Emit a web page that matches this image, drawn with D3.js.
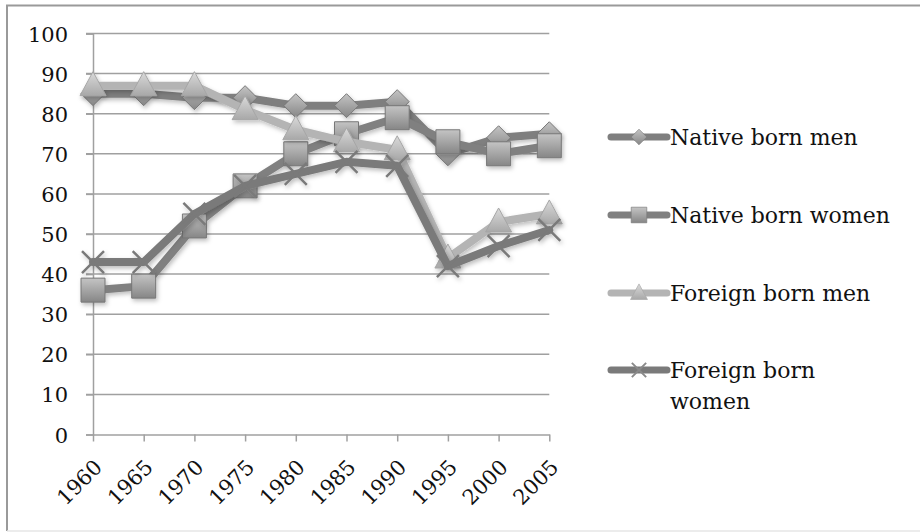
<!DOCTYPE html>
<html>
<head>
<meta charset="utf-8">
<script src="https://cdn.jsdelivr.net/npm/d3@7"></script>
<style>
  body { margin: 0; background: #fff; }
  svg { display: block; }
  .tick text { font-family: "DejaVu Serif", serif; fill: #111; }
</style>
</head>
<body>
<div id="chart-area"></div>
<script>
// values
const years = ['1960','1965','1970','1975','1980','1985','1990','1995','2000','2005'];
const nativeMen = [85, 85, 84, 84, 82, 82, 83, 70, 74, 75];
const nativeWomen = [36, 37, 52, 62, 70, 75, 79, 73, 70, 72];
const foreignMen = [87, 87, 87, 81, 76, 73, 71, 44, 53, 55];
const foreignWomen = [43, 43, 55, 62, 65, 68, 67, 42, 47, 51];
const yTicks = [0, 10, 20, 30, 40, 50, 60, 70, 80, 90, 100];

const seriesNames = ['Native born men', 'Native born women', 'Foreign born men', 'Foreign born women'];
const seriesValues = [nativeMen, nativeWomen, foreignMen, foreignWomen];
const seriesColor = ['#7f7f7f', '#808080', '#b4b4b4', '#7a7a7a'];
const seriesMarker = ['diamond', 'square', 'triangle', 'cross'];

const WIDTH = 920, HEIGHT = 532;
const PLOT = { LEFT: 93, RIGHT: 549.3, TOP: 33.5, BOTTOM: 434.5 };

const svg = d3.select('#chart-area')
  .append('svg')
  .attr('width', WIDTH)
  .attr('height', HEIGHT);

const defs = svg.append('defs');

const grad = defs.append('linearGradient')
  .attr('id', 'mk').attr('x1', 0).attr('y1', 0).attr('x2', 0).attr('y2', 1);
grad.append('stop').attr('offset', '0%').attr('stop-color', '#c4c4c4');
grad.append('stop').attr('offset', '100%').attr('stop-color', '#868686');

const gradLight = defs.append('linearGradient')
  .attr('id', 'mkLight').attr('x1', 0).attr('y1', 0).attr('x2', 0).attr('y2', 1);
gradLight.append('stop').attr('offset', '0%').attr('stop-color', '#dadada');
gradLight.append('stop').attr('offset', '100%').attr('stop-color', '#a8a8a8');

const shadow = defs.append('filter').attr('id', 'shadow')
  .attr('x', '-30%').attr('y', '-30%').attr('width', '160%').attr('height', '160%');
shadow.append('feDropShadow')
  .attr('dx', 1.5).attr('dy', 2.5).attr('stdDeviation', 2)
  .attr('flood-color', '#000').attr('flood-opacity', 0.25);

// outer chart border
svg.append('path')
  .attr('d', `M7,531 V5.5 H${WIDTH}`)
  .attr('fill', 'none').attr('stroke', '#9a9a9a').attr('stroke-width', 2);
svg.append('line')
  .attr('x1', 7).attr('x2', WIDTH).attr('y1', 531).attr('y2', 531)
  .attr('stroke', '#e6e6e6').attr('stroke-width', 1.5);

const x = d3.scalePoint()
  .domain(years)
  .range([PLOT.LEFT, PLOT.RIGHT]);

const y = d3.scaleLinear()
  .domain([0, 100])
  .range([PLOT.BOTTOM, PLOT.TOP]);

// gridlines
svg.append('g')
  .selectAll('line')
  .data(yTicks.filter(d => d > 0))
  .enter().append('line')
  .attr('x1', PLOT.LEFT - 7).attr('x2', PLOT.RIGHT)
  .attr('y1', d => y(d)).attr('y2', d => y(d))
  .attr('stroke', '#a0a0a0').attr('stroke-width', 1.5);

// y axis
const yAxisGroup = svg.append('g')
  .attr('transform', `translate(${PLOT.LEFT},0)`)
  .call(d3.axisLeft(y).tickValues(yTicks).tickSize(7).tickPadding(18));
yAxisGroup.select('.domain').attr('stroke', '#a0a0a0').attr('stroke-width', 1.5);
yAxisGroup.selectAll('.tick line').attr('stroke', '#a0a0a0').attr('stroke-width', 1.5);
yAxisGroup.selectAll('.tick text').attr('font-size', 21).attr('x', -25).attr('dy', '0.36em');

// x axis
const xAxisGroup = svg.append('g')
  .attr('transform', `translate(0,${PLOT.BOTTOM})`)
  .call(d3.axisBottom(x).tickSize(7).tickSizeOuter(0));
xAxisGroup.select('.domain').attr('stroke', '#a0a0a0').attr('stroke-width', 1.5);
xAxisGroup.selectAll('.tick line').attr('stroke', '#a0a0a0').attr('stroke-width', 1.5);
xAxisGroup.selectAll('.tick text')
  .attr('font-size', 21)
  .attr('text-anchor', 'end')
  .attr('y', 0).attr('dy', 0)
  .attr('transform', 'translate(10,34) rotate(-45)');

// markers
const markerPath = (type) => {
  if (type === 'diamond') return 'M0,-12 L12,0 L0,12 L-12,0 Z';
  if (type === 'square') return 'M-12,-12 H12 V12 H-12 Z';
  if (type === 'triangle') return 'M0,-14 L13,10 L-13,10 Z';
  return 'M-11,-11 L11,11 M11,-11 L-11,11';
};

const line = d3.line()
  .x((d, i) => x(years[i]))
  .y(d => y(d));

const plot = svg.append('g');

seriesValues.forEach((vals, s) => {
  const g = plot.append('g').attr('filter', 'url(#shadow)');

  g.append('path')
    .datum(vals)
    .attr('d', line)
    .attr('fill', 'none')
    .attr('stroke', seriesColor[s])
    .attr('stroke-width', 8)
    .attr('stroke-linejoin', 'round')
    .attr('stroke-linecap', 'round');

  const type = seriesMarker[s];
  g.selectAll('.mark')
    .data(vals)
    .enter().append('path')
    .attr('class', 'mark')
    .attr('transform', (d, i) => `translate(${x(years[i])},${y(d)})`)
    .attr('d', markerPath(type))
    .attr('fill', type === 'cross' ? 'none' : (type === 'triangle' ? 'url(#mkLight)' : 'url(#mk)'))
    .attr('stroke', type === 'cross' ? '#7a7a7a' : (type === 'triangle' ? '#a6a6a6' : '#777'))
    .attr('stroke-width', type === 'cross' ? 2.5 : 1);
});

// legend
const LEG = { X1: 611, X2: 667, TEXT: 670 };
const legendY = [137, 215, 293, 370];
const legendLines = [['Native born men'], ['Native born women'], ['Foreign born men'], ['Foreign born', 'women']];

const legend = svg.append('g');
seriesNames.forEach((name, s) => {
  const ly = legendY[s];
  legend.append('line')
    .attr('x1', LEG.X1).attr('x2', LEG.X2)
    .attr('y1', ly).attr('y2', ly)
    .attr('stroke', seriesColor[s]).attr('stroke-width', 7)
    .attr('stroke-linecap', 'round');
  const type = seriesMarker[s];
  legend.append('path')
    .attr('transform', `translate(${(LEG.X1 + LEG.X2) / 2},${ly}) scale(0.65)`)
    .attr('d', markerPath(type))
    .attr('fill', type === 'cross' ? 'none' : (type === 'triangle' ? 'url(#mkLight)' : 'url(#mk)'))
    .attr('stroke', type === 'cross' ? '#8a8a8a' : (type === 'triangle' ? '#a6a6a6' : '#777'))
    .attr('stroke-width', type === 'cross' ? 3 : 1);
  const t = legend.append('text')
    .attr('x', LEG.TEXT).attr('y', ly + 8)
    .attr('font-family', '"DejaVu Serif", serif')
    .attr('font-size', 22)
    .attr('fill', '#111');
  legendLines[s].forEach((str, k) => {
    t.append('tspan').attr('x', LEG.TEXT).attr('dy', k === 0 ? 0 : 31).text(str);
  });
});
</script>
</body>
</html>
